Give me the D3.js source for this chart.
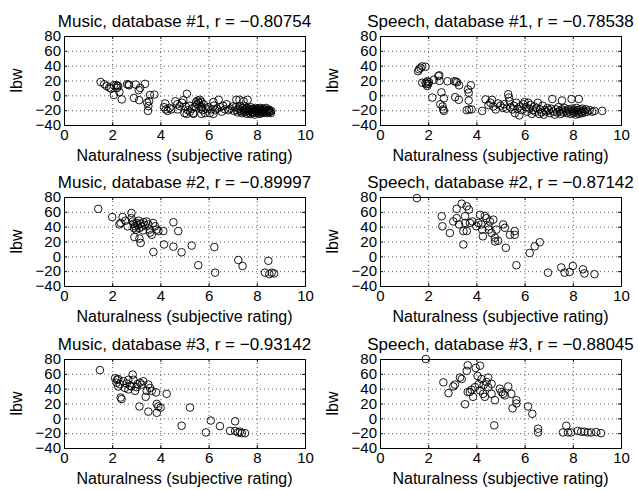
<!DOCTYPE html>
<html>
<head>
<meta charset="UTF-8" />
<script src="https://cdn.jsdelivr.net/npm/d3@7"></script>
<title>lbw vs naturalness</title>
<style>
    body { margin: 0; background: white; }
    svg { display: block; font-family: "Liberation Sans", Helvetica, Arial, sans-serif; }
    .grid line { stroke: #333; stroke-dasharray: 1,3; stroke-width: 0.8; }
    .grid path { display: none; }
    .pt { fill: none; stroke: black; stroke-width: 0.9; }
</style>
</head>
<body>
<div id="chart"></div>
<script>
const xTicks = [0, 2, 4, 6, 8, 10];
const yTicks = [-40, -20, 0, 20, 40, 60, 80];
const titles = [
    "Music, database #1, r = \u22120.80754",
    "Speech, database #1, r = \u22120.78538",
    "Music, database #2, r = \u22120.89997",
    "Speech, database #2, r = \u22120.87142",
    "Music, database #3, r = \u22120.93142",
    "Speech, database #3, r = \u22120.88045"
];
const xLabel = "Naturalness (subjective rating)";
const yLabel = "lbw";

const music1 = [
    [1.52,18],[1.67,15],[1.77,12.5],[1.88,10.5],[1.95,9],[2.07,13.5],[2.17,14],[2.22,13],[2.25,12],[2.2,10],
    [2.07,0.5],[2.3,4.5],[2.4,-5.5],[2.62,15],[2.7,13.5],[2.68,14.5],[2.98,14.5],[3.1,7],[3.16,10],[3.36,15.5],
    [2.9,-3.5],[3.12,-6.5],[3.57,0.5],[3.75,1],[3.53,-8],[3.45,-10],[3.5,-14.5],[3.48,-21],
    [4.15,-16],[4.2,-11],[4.23,-19],[4.3,-21],[4.38,-17],[4.45,-19],[4.62,-8],[4.7,-12],[4.72,-19],[4.8,-14.5],
    [4.9,-10],[4.95,-6.5],[5.0,-24],[5.05,-15],[5.1,2],[5.14,-20],[5.2,-14],[5.23,-22],[5.3,-18],[5.36,-24],
    [5.42,-16],[5.48,-9],[5.52,-12],[5.55,-7],[5.6,-10],[5.62,-14],[5.64,-6],[5.68,-18],[5.7,-9],[5.72,-16],
    [5.76,-20],[5.8,-12],[5.85,-24],[5.9,-18],[5.98,-16],[6.05,-24],[6.12,-19],[6.2,-9],[6.22,-14],[6.28,-20],
    [6.35,-18],[6.42,-6],[6.48,-16],[6.55,-22],[6.6,-14],[6.68,-19],[6.75,-12],[6.82,-20],[6.9,-18],[7.0,-15],
    [7.05,-21],[5.09,-25],[5.37,-25],[5.7,-25],[6.2,-25],
    [7.15,-6],[7.28,-6],[7.62,-6],[7.45,-8],
    [7.12,-16],[7.18,-20],[7.2,-23],[7.25,-18],[7.3,-14],[7.32,-21],[7.38,-24],[7.4,-17],[7.45,-20],[7.48,-23],
    [7.5,-15],[7.52,-19],[7.55,-22],[7.58,-25],[7.6,-17],[7.62,-20],[7.65,-23],[7.68,-18],[7.7,-21],[7.72,-25],
    [7.75,-16],[7.78,-19],[7.8,-22],[7.82,-24],[7.85,-18],[7.88,-20],[7.9,-23],[7.92,-26],[7.95,-17],[7.98,-21],
    [8.0,-19],[8.02,-24],[8.05,-22],[8.08,-18],[8.1,-20],[8.12,-25],[8.15,-17],[8.18,-22],[8.2,-20],[8.22,-24],
    [8.25,-18],[8.28,-21],[8.3,-23],[8.32,-19],[8.35,-22],[8.38,-17],[8.4,-20],[8.42,-24],[8.45,-21],[8.48,-19],
    [8.5,-23],[8.52,-20],[8.55,-22],[8.58,-24],[8.6,-21]
];
const speech1 = [
    [1.58,32.5],[1.68,37],[1.75,39],[1.89,38.5],[1.62,35],[1.75,17],[1.89,17],[1.96,19],[2.03,18],[1.96,12.5],
    [1.92,15],[2.0,15.5],[2.17,-3],[2.23,21],[2.42,26],[2.46,27],[2.47,19.5],[2.55,4],[2.65,-4],[2.5,-12],
    [2.6,-15],[2.62,-19],[2.65,-21],[2.8,19],[3.08,19],[3.15,18.5],[3.2,17.5],[3.28,13.5],[3.12,-2.5],[3.27,-6],
    [3.68,-7],[3.68,3.5],[3.77,13.5],[3.65,8],[3.6,-20],[3.7,-19],[3.8,-19],
    [4.24,-21],[4.38,-5.5],[4.5,-13],[4.58,-10],[4.65,-6],[4.7,-15],[4.8,-19],[4.9,-11],[5.0,-14],[5.1,-17],
    [5.15,-12],[5.25,-18],[5.32,1.5],[5.35,-3],[5.38,-8],[5.42,-16],[5.5,-19],[5.55,-14],[5.6,-24],[5.65,-10],
    [5.7,-18],[5.78,-27],[5.82,-15],[5.88,-20],[5.95,-12],[6.0,-9],[6.05,-16],[6.1,-22],[6.15,-10],[6.2,-18],
    [6.25,-13],[6.3,-25],[6.35,-20],[6.4,-15],[6.45,-22],[6.5,-17],[6.55,-10],[6.6,-25],[6.65,-19],[6.7,-23],
    [6.75,-14],[6.8,-26],[6.85,-20],[6.9,-22],[6.95,-17],
    [7.15,-5],[7.55,-7],[7.95,-5],[8.25,-5],
    [7.0,-20],[7.05,-24],[7.1,-18],[7.2,-22],[7.25,-26],[7.3,-19],[7.35,-23],[7.4,-16],[7.45,-21],[7.5,-25],
    [7.55,-19],[7.6,-23],[7.65,-17],[7.7,-21],[7.75,-24],[7.8,-19],[7.85,-22],[7.9,-25],[7.95,-18],[8.0,-21],
    [8.02,-24],[8.05,-19],[8.1,-22],[8.12,-26],[8.15,-17],[8.2,-20],[8.22,-23],[8.25,-25],[8.3,-19],[8.35,-22],
    [8.38,-24],[8.4,-18],[8.45,-21],[8.5,-23],[8.55,-19],[8.6,-22],[8.7,-20],[8.8,-22],[8.9,-21],[9.22,-21]
];
const music2 = [
    [1.42,64],[2.0,53],[2.3,43],[2.35,45],[2.43,53],[2.55,48],[2.64,40.5],[2.8,58.5],[2.8,51.5],[2.85,47],
    [2.88,44],[2.95,40.5],[3.02,45],[2.99,36],[2.9,38],[2.92,26],[3.13,24],[3.18,18],[3.05,42],[3.1,48],
    [3.12,38],[3.18,44],[3.22,40],[3.28,35],[3.3,46],[3.35,42],[3.43,47],[3.5,43],[3.55,36],[3.57,32],
    [3.64,29],[3.7,45],[3.78,40.5],[3.85,36],[3.92,34],[3.71,6],[4.12,34],[4.15,16],[4.54,46],[4.54,13],
    [4.74,34],[4.88,5.5],[5.3,14.5],[5.57,-12],[6.24,12.5],[6.27,-22],[7.23,-5],[7.41,-13],[8.48,-6],[8.34,-22],
    [8.52,-24],[8.62,-22],[8.72,-23]
];
const speech2 = [
    [1.53,78.5],[2.56,54],[2.59,40.5],[2.9,31.5],[3.04,47],[3.18,51.5],[3.18,64],[3.28,43],[3.39,71],[3.46,34],
    [3.46,16],[3.53,54],[3.6,67.5],[3.69,63],[3.53,45],[3.6,34],[3.73,45],[3.83,47],[4.0,40.5],[4.08,45],
    [4.15,56],[4.2,43],[4.24,36],[4.27,27],[4.35,54.5],[4.42,51.5],[4.5,40.5],[4.52,36],[4.56,47],[4.7,49.5],
    [4.77,25],[4.77,20],[4.9,21],[4.83,36],[4.63,31.5],[5.11,43],[5.18,38.5],[5.22,11.5],[5.39,29],[5.59,34],
    [5.59,29],[5.66,-12],[6.21,4.5],[6.42,13.5],[6.63,19],[6.97,-22],[7.52,-15],[7.66,-22],[7.87,-21],[8.0,-13],
    [8.42,-17.5],[8.48,-23],[8.9,-24]
];
const music3 = [
    [1.49,65],[2.12,54],[2.2,52],[2.25,53],[2.18,48],[2.25,43],[2.32,46],[2.35,28],[2.39,26],[2.46,50],
    [2.53,41],[2.6,47],[2.67,52],[2.67,39],[2.74,44],[2.8,43],[2.85,59],[2.88,52],[2.95,37],[3.0,42],
    [3.05,46],[3.15,48],[3.22,45.5],[3.29,50],[3.43,37],[3.5,45.5],[3.57,41],[3.64,37],[3.39,29],[3.13,16],
    [3.5,9],[3.82,35],[3.85,19.5],[3.91,16],[3.85,7.5],[4.01,14.5],[4.26,33],[4.88,-10],[5.23,14.5],[5.89,-19],
    [6.09,-3],[6.47,-10.5],[6.89,-17],[7.1,-4],[7.1,-17],[7.22,-19],[7.3,-18],[7.38,-20],[7.51,-20]
];
const speech3 = [
    [1.9,80],[2.63,48.5],[2.84,34],[3.04,43],[3.11,45.5],[3.32,55],[3.39,53],[3.53,19],[3.64,71.5],[3.6,64],
    [3.64,35.5],[3.73,35.5],[3.8,38.5],[3.86,29],[3.94,42],[3.97,68],[4.05,57],[4.15,71],[4.1,46],[4.15,37.5],
    [4.21,53],[4.28,33],[4.3,45],[4.35,29],[4.42,49],[4.49,55],[4.49,42],[4.63,46.5],[4.63,33],[4.77,24.5],
    [4.74,-9.5],[4.97,40],[5.04,35.5],[5.11,33],[5.18,31],[5.32,43],[5.45,33],[5.5,13.5],[5.66,24.5],[5.66,20],
    [6.14,16],[6.32,6],[6.56,-14],[6.56,-19],[7.59,-19],[7.73,-10],[7.8,-19],[7.93,-19],[8.2,-17],[8.35,-18],
    [8.48,-18],[8.62,-19],[8.76,-19],[8.97,-18.5],[9.17,-20]
];
const panels = [music1, speech1, music2, speech2, music3, speech3];

const W = 638, H = 490;
const colX = [64, 380], rowY = [36, 197, 359];
const pw = 241, ph = 89;

const svg = d3.select("#chart").append("svg").attr("width", W).attr("height", H);

panels.forEach((data, i) => {
    const col = i % 2, row = Math.floor(i / 2);
    const g = svg.append("g").attr("transform", "translate(" + colX[col] + "," + rowY[row] + ")");
    const x = d3.scaleLinear().domain([0, 10]).range([0, pw]);
    const y = d3.scaleLinear().domain([-40, 80]).range([ph, 0]);

    // dotted grid
    g.append("g").attr("class", "grid").attr("transform", "translate(0," + ph + ")")
        .call(d3.axisBottom(x).tickValues(xTicks.slice(1, -1)).tickSize(-ph).tickFormat(""));
    g.append("g").attr("class", "grid")
        .call(d3.axisLeft(y).tickValues(yTicks.slice(1, -1)).tickSize(-pw).tickFormat(""));

    g.selectAll("circle").data(data).enter().append("circle")
        .attr("class", "pt")
        .attr("cx", d => x(d[0]))
        .attr("cy", d => y(d[1]))
        .attr("r", 3.8);

    // box with inside ticks
    const xa = g.append("g").attr("transform", "translate(0," + ph + ")")
        .call(d3.axisBottom(x).tickValues(xTicks).tickSize(-3).tickPadding(4).tickFormat(d3.format("d")));
    const ya = g.append("g")
        .call(d3.axisLeft(y).tickValues(yTicks).tickSize(-3).tickPadding(3)
            .tickFormat(d => d < 0 ? "\u2212" + Math.abs(d) : d));
    g.append("g").call(d3.axisTop(x).tickValues(xTicks).tickSize(-3).tickFormat(""));
    g.append("g").attr("transform", "translate(" + pw + ",0)")
        .call(d3.axisRight(y).tickValues(yTicks).tickSize(-3).tickFormat(""));
    g.selectAll(".domain, .tick line").attr("stroke", "black").attr("stroke-width", 1);
    xa.selectAll("text").attr("font-size", 15).attr("fill", "black");
    ya.selectAll("text").attr("font-size", 15).attr("fill", "black");
    g.selectAll("g").attr("font-family", null);

    g.append("text").attr("x", pw / 2).attr("y", -9).attr("text-anchor", "middle")
        .attr("font-size", 17).text(titles[i]);
    g.append("text").attr("x", pw / 2).attr("y", ph + 36).attr("text-anchor", "middle")
        .attr("font-size", 16).text(xLabel);
    g.append("text").attr("transform", "translate(-42," + (ph / 2) + ") rotate(-90)")
        .attr("text-anchor", "middle").attr("font-size", 16).text(yLabel);
});
</script>
</body>
</html>
